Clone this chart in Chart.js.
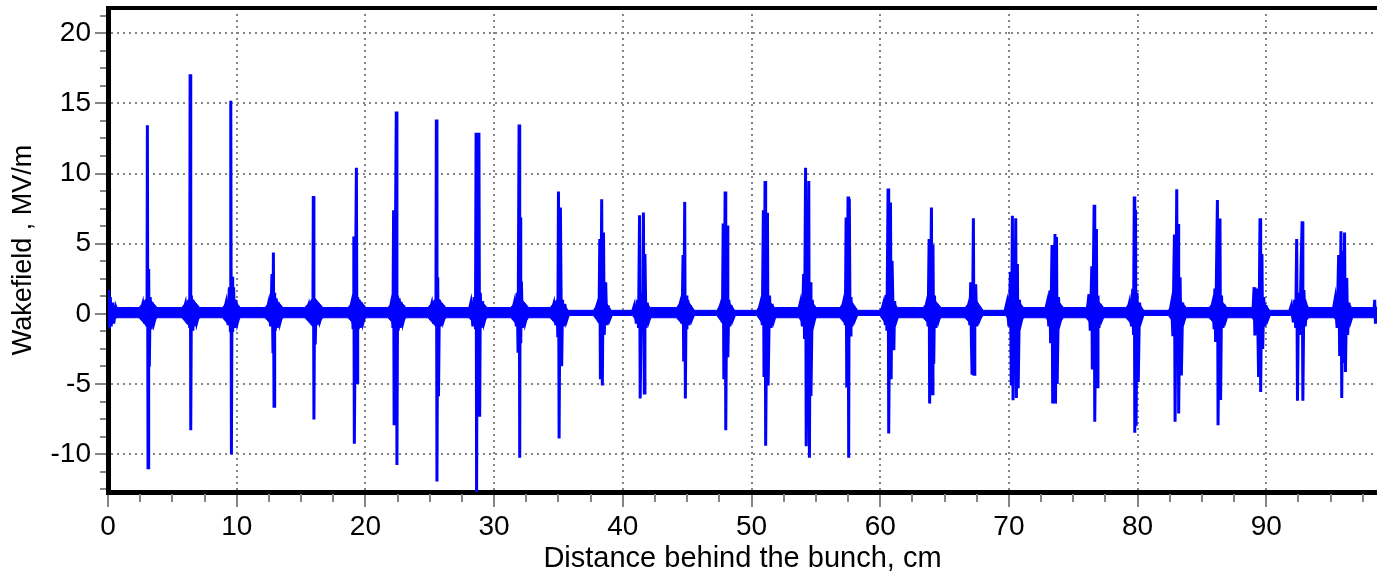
<!DOCTYPE html>
<html><head><meta charset="utf-8">
<script src="https://cdn.jsdelivr.net/npm/chart.js@4.4.0/dist/chart.umd.min.js"></script>
<style>html,body{margin:0;padding:0;background:#fff;}#wrap{width:1377px;height:576px;position:relative;}</style>
</head><body><div id="wrap"><canvas id="c"></canvas></div>
<script>
// ---- tick labels ----
const xMajorTicks = [0,10,20,30,40,50,60,70,80,90];
const xMinorTicks = [2.5,5,7.5,12.5,15,17.5,22.5,25,27.5,32.5,35,37.5,42.5,45,47.5,52.5,55,57.5,62.5,65,67.5,72.5,75,77.5,82.5,85,87.5,92.5,95,97.5];
const yMajorTicks = [-10,-5,0,5,10,15,20];
const yMinorTicks = [-12.5,-11.25,-8.75,-7.5,-6.25,-3.75,-2.5,-1.25,1.25,2.5,3.75,6.25,7.5,8.75,11.25,12.5,13.75,16.25,17.5,18.75,21.25];

// ---- wakefield trace (distance in cm, field in MV/m) ----
const distanceCm = [
 0.00,0.05,0.10,0.18,0.25,0.35,0.45,0.60,0.80,
 2.50,2.70,2.85,2.95,3.03,3.06,3.11,3.16,3.21,3.28,3.36,3.46,3.58,3.75,
 5.82,6.02,6.17,6.27,6.35,6.38,6.43,6.48,6.53,6.60,6.68,6.78,6.90,7.07,
 8.98,9.18,9.33,9.43,9.51,9.54,9.59,9.64,9.69,9.76,9.84,9.94,10.06,10.23,
 12.29,12.49,12.64,12.74,12.82,12.85,12.90,12.95,13.00,13.07,13.15,13.25,13.37,13.54,
 15.39,15.59,15.74,15.84,15.92,15.95,16.00,16.05,16.10,16.17,16.25,16.35,16.47,16.64,
 18.74,18.94,19.04,19.10,19.14,19.30,19.35,19.40,19.45,19.52,19.60,19.70,19.82,19.99,
 21.84,22.04,22.14,22.19,22.23,22.40,22.45,22.50,22.55,22.62,22.70,22.80,22.92,23.09,
 24.95,25.15,25.30,25.40,25.48,25.51,25.56,25.62,25.68,25.75,25.83,25.93,26.05,26.22,
 28.00,28.20,28.35,28.45,28.55,28.60,28.64,28.70,28.76,28.82,28.88,28.93,29.00,29.10,29.22,29.40,
 31.38,31.58,31.73,31.80,31.86,31.94,31.99,32.03,32.07,32.12,32.20,32.30,32.42,32.59,
 34.44,34.64,34.79,34.89,34.95,35.00,35.05,35.15,35.25,35.32,35.40,35.50,35.62,35.79,
 37.80,38.00,38.15,38.21,38.26,38.36,38.41,38.50,38.56,38.67,38.75,38.85,38.97,39.14,
 40.70,40.90,41.05,41.15,41.22,41.30,41.35,41.45,41.55,41.60,41.67,41.72,41.80,41.90,42.02,42.20,
 44.25,44.45,44.60,44.68,44.73,44.81,44.86,44.92,44.98,45.05,45.13,45.23,45.35,45.52,
 47.39,47.59,47.74,47.80,47.85,47.95,48.00,48.10,48.16,48.24,48.32,48.42,48.54,48.71,
 50.49,50.69,50.84,50.92,50.97,51.05,51.10,51.24,51.29,51.40,51.50,51.60,51.72,51.89,
 53.60,53.80,53.95,54.05,54.12,54.20,54.25,54.32,54.38,54.45,54.50,54.56,54.62,54.72,54.84,55.00,
 56.94,57.14,57.29,57.35,57.40,57.50,57.55,57.60,57.66,57.73,57.81,57.91,58.03,58.20,
 60.05,60.25,60.40,60.46,60.52,60.61,60.66,60.80,60.85,60.92,61.06,61.12,61.24,61.41,
 63.42,63.62,63.72,63.80,63.84,63.98,64.03,64.10,64.16,64.22,64.30,64.40,64.52,64.69,
 66.68,66.88,66.96,67.03,67.09,67.14,67.24,67.29,67.35,67.42,67.50,67.60,67.72,67.89,
 69.65,69.85,70.00,70.12,70.18,70.27,70.32,70.40,70.46,70.53,70.58,70.66,70.72,70.82,70.94,71.10,
 72.78,72.98,73.10,73.18,73.24,73.35,73.40,73.47,73.52,73.58,73.62,73.70,73.75,73.85,73.97,74.15,
 76.06,76.22,76.32,76.44,76.48,76.62,76.67,76.80,76.85,76.92,77.00,77.10,77.22,77.39,
 79.17,79.37,79.52,79.62,79.68,79.74,79.78,79.84,79.88,79.96,80.05,80.15,80.27,80.44,
 82.48,82.64,82.74,82.86,82.91,83.04,83.09,83.14,83.19,83.30,83.40,83.50,83.60,83.76,
 85.64,85.84,85.94,86.00,86.06,86.20,86.25,86.40,86.45,86.52,86.60,86.70,86.82,86.99,
 88.95,89.05,89.11,89.30,89.40,89.51,89.56,89.66,89.72,89.80,89.88,89.98,90.10,90.27,
 91.75,91.95,92.10,92.20,92.28,92.36,92.42,92.50,92.60,92.70,92.78,92.84,92.92,93.02,93.14,93.30,
 95.15,95.35,95.50,95.62,95.70,95.80,95.86,95.94,96.00,96.08,96.15,96.25,96.32,96.42,96.55,96.72,
 98.35,98.42,98.48,98.54,98.60
];
const wakefieldMVm = [
 0.3,1.7,-1.05,1.2,-0.9,0.8,-0.7,0.5,0,
 0,0.7,-0.7,1.0,-0.9,13.45,-10.97,3.2,-3.75,1.2,-1.1,0.8,-0.6,0,
 0,0.7,-0.7,1.0,-1.0,17.08,-8.29,1.3,-1.1,1.0,-0.9,0.7,-0.6,0,
 0,0.8,-0.8,1.9,-1.2,15.19,-10.02,2.65,-1.3,1.9,-1.0,1.0,-0.6,0,
 0,0.8,-0.9,2.84,-2.8,4.38,-6.59,1.5,-1.2,1.1,-1.0,0.8,-0.6,0,
 0,0.6,-0.6,0.9,-0.8,8.39,-7.53,1.0,-2.18,0.8,-0.8,0.6,-0.5,0,
 0,0.8,-1.0,5.52,-9.26,10.42,-4.9,1.2,-1.1,1.0,-1.0,0.8,-0.6,0,
 0,0.9,-1.0,7.39,-7.94,14.43,-10.78,1.3,-1.2,1.1,-1.0,0.8,-0.6,0,
 0,0.7,-0.7,0.9,-0.8,13.86,-11.96,2.6,-5.88,1.0,-0.9,0.7,-0.5,0,
 0,0.8,-0.9,1.2,-1.1,12.91,-12.9,12.0,-1.5,12.91,-7.34,1.5,-1.0,0.9,-0.6,0,
 0,0.8,-0.9,1.5,-2.77,13.5,-10.26,6.87,-2.1,2.3,-1.0,0.8,-0.6,0,
 0,0.7,-0.8,0.9,-1.66,8.72,-8.88,7.58,-3.74,1.0,-0.9,0.7,-0.5,0,
 0,0.6,-0.6,5.33,-4.67,8.17,-5.1,5.8,-1.5,2.25,-0.8,0.6,-0.4,0,
 0,0.6,-0.7,1.0,-1.0,7.03,-6.04,1.5,-1.3,7.23,-5.64,4.26,-1.0,0.8,-0.5,0,
 0,0.7,-0.7,4.19,-3.39,7.98,-6.04,1.3,-1.1,1.0,-0.8,0.6,-0.4,0,
 0,0.6,-0.6,6.44,-4.67,8.72,-8.29,6.3,-3.1,1.0,-0.9,0.6,-0.4,0,
 0,0.7,-0.8,7.39,-4.5,9.47,-9.4,7.2,-5.1,1.3,-1.0,0.7,-0.5,0,
 0,0.8,-0.9,2.84,-1.8,10.42,-9.43,2.0,-2.5,9.47,-10.26,2.25,-5.85,1.0,-0.6,0,
 0,0.8,-0.8,6.87,-5.26,8.36,-10.26,8.2,-1.5,1.2,-0.9,0.6,-0.4,0,
 0,0.7,-0.8,1.35,-1.2,8.93,-8.53,7.94,-4.67,3.79,-2.6,0.9,-0.5,0,
 0,0.8,-0.9,5.33,-6.4,7.58,-5.7,4.9,-3.55,1.3,-1.0,0.7,-0.5,0,
 0,0.7,-0.8,2.25,-2.2,-4.34,6.82,-4.3,1.5,2.1,-0.9,0.6,-0.4,0,
 0,0.8,-0.9,2.99,-5.1,6.99,-6.16,2.0,-2.5,6.82,-6.0,3.55,-5.3,1.0,-0.6,0,
 0,0.8,-0.9,1.66,-2.1,4.9,-6.4,2.0,-3.0,5.69,-6.4,5.47,-5.0,1.2,-0.6,0,
 0,1.4,-1.2,3.39,-3.96,7.77,-7.7,6.04,-5.2,1.3,-1.0,0.7,-0.4,0,
 0,0.8,-0.9,1.78,-1.5,8.36,-8.48,7.41,-8.0,1.5,-4.86,0.8,-0.5,0,
 0,0.8,-1.6,5.65,-7.7,8.88,-1.5,6.4,-7.1,2.6,-4.4,0.8,-0.5,0,
 0,0.8,-1.0,1.8,-2.0,8.12,-7.94,6.8,-6.15,1.3,-1.0,0.7,-0.5,0,
 0,1.9,-1.54,1.8,-4.5,6.82,-5.57,4.26,-2.5,1.2,-0.9,0.6,-0.4,0,
 0,0.6,-0.6,1.0,-1.0,5.33,-6.2,1.5,-1.5,3.27,6.59,-6.2,1.7,-0.9,0.5,0,
 0,1.07,-1.0,4.2,-3.0,5.88,-6.0,4.5,-3.5,5.8,-4.14,2.55,-1.5,0.8,-0.5,0,
 0,1.0,-0.7,0.5,0
];

// ---- envelope of the dense background ripple (upper / lower bound) ----
const envelopeCm = [0,0.7, 2.41,3.11,3.81, 5.73,6.43,7.13, 8.89,9.59,10.29, 12.2,12.9,13.6, 15.3,16.0,16.7, 18.65,19.35,20.05, 21.75,22.45,23.15, 24.86,25.56,26.26, 28.05,28.75,29.45, 31.29,31.99,32.69, 34.35,35.05,35.75, 37.71,38.41,39.11, 40.75,41.45,42.15, 44.16,44.86,45.56, 47.3,48.0,48.7, 50.4,51.1,51.8, 53.65,54.35,55.05, 56.85,57.55,58.25, 59.96,60.66,61.36, 63.33,64.03,64.73, 66.59,67.29,67.99, 69.75,70.45,71.15, 72.85,73.55,74.25, 75.97,76.67,77.37, 79.08,79.78,80.48, 82.39,83.09,83.79, 85.55,86.25,86.95, 88.86,89.56,90.26, 91.9,92.6,93.3, 95.25,95.95,96.65, 98.6];
const envelopeHigh = [0.8,0.45, 0.45,1.2,0.45, 0.45,1.2,0.45, 0.45,1.2,0.45, 0.45,1.2,0.45, 0.45,1.2,0.45, 0.45,1.2,0.45, 0.45,1.2,0.45, 0.45,1.2,0.45, 0.45,1.2,0.45, 0.45,1.2,0.45, 0.45,1.2,0.25, 0.25,1.2,0.25, 0.25,1.2,0.45, 0.45,1.2,0.25, 0.25,1.2,0.25, 0.25,1.2,0.45, 0.45,1.2,0.45, 0.45,1.2,0.25, 0.25,1.2,0.45, 0.45,1.2,0.45, 0.45,1.2,0.25, 0.25,1.2,0.45, 0.45,1.2,0.45, 0.45,1.2,0.45, 0.45,1.2,0.25, 0.25,1.2,0.45, 0.45,1.2,0.45, 0.45,1.2,0.25, 0.25,1.2,0.45, 0.45,1.2,0.45, 0.45];
const envelopeLow = [-0.6,-0.28, -0.28,-1.0,-0.28, -0.28,-1.0,-0.28, -0.28,-1.0,-0.28, -0.28,-1.0,-0.28, -0.28,-1.0,-0.28, -0.28,-1.0,-0.28, -0.28,-1.0,-0.28, -0.28,-1.0,-0.28, -0.28,-1.0,-0.28, -0.28,-1.0,-0.28, -0.28,-1.0,-0.12, -0.12,-1.0,-0.12, -0.12,-1.0,-0.28, -0.28,-1.0,-0.12, -0.12,-1.0,-0.12, -0.12,-1.0,-0.28, -0.28,-1.0,-0.28, -0.28,-1.0,-0.12, -0.12,-1.0,-0.28, -0.28,-1.0,-0.28, -0.28,-1.0,-0.12, -0.12,-1.0,-0.28, -0.28,-1.0,-0.28, -0.28,-1.0,-0.28, -0.28,-1.0,-0.12, -0.12,-1.0,-0.28, -0.28,-1.0,-0.28, -0.28,-1.0,-0.12, -0.12,-1.0,-0.28, -0.28,-1.0,-0.28, -0.28];

const X_MIN = 0, X_MAX = 98.6, Y_MIN = -12.7, Y_MAX = 21.8;
const FONT = "'Liberation Sans', Arial, Helvetica, sans-serif";
const BLUE = '#0000ff';
const GRID = '#858585';

const trace = distanceCm.map((x, i) => ({x, y: wakefieldMVm[i]}));
const envHi = envelopeCm.map((x, i) => ({x, y: envelopeHigh[i]}));
const envLo = envelopeCm.map((x, i) => ({x, y: envelopeLow[i]}));

const extras = {
  id: 'extras',
  afterDraw(chart) {
    const {ctx, chartArea: a, scales: {x, y}} = chart;
    ctx.save();
    ctx.strokeStyle = GRID; ctx.lineWidth = 2;
    ctx.beginPath();
    xMinorTicks.forEach(v => { const p = Math.round(x.getPixelForValue(v)); ctx.moveTo(p, a.bottom + 2); ctx.lineTo(p, a.bottom + 10); });
    yMinorTicks.forEach(v => { const p = Math.round(y.getPixelForValue(v)); ctx.moveTo(a.left - 8, p); ctx.lineTo(a.left - 2, p); });
    ctx.stroke();
    ctx.strokeStyle = '#000'; ctx.lineWidth = 4;
    ctx.beginPath(); ctx.moveTo(a.left - 2, a.top); ctx.lineTo(a.right, a.top); ctx.stroke();
    ctx.restore();
  }
};

new Chart(document.getElementById('c'), {
  type: 'line',
  data: {
    datasets: [
      {data: trace, borderColor: BLUE, borderWidth: 3, pointRadius: 0, fill: false, tension: 0},
      {data: envHi, borderColor: BLUE, borderWidth: 1, pointRadius: 0, fill: '+1', backgroundColor: BLUE, tension: 0},
      {data: envLo, borderColor: BLUE, borderWidth: 1, pointRadius: 0, fill: false, tension: 0}
    ]
  },
  options: {
    responsive: true, maintainAspectRatio: false, animation: false, events: [],
    layout: {padding: {top: 8, left: 0, right: 0, bottom: 0}},
    plugins: {legend: {display: false}, tooltip: {enabled: false}},
    scales: {
      x: {
        type: 'linear', min: X_MIN, max: X_MAX,
        afterBuildTicks: s => { s.ticks = xMajorTicks.map(v => ({value: v})); },
        afterFit: s => { s.height = 84; s.paddingRight = 0; },
        ticks: {font: {family: FONT, size: 28}, color: '#000', padding: 3, maxRotation: 0, includeBounds: false},
        grid: {color: GRID, lineWidth: 2, tickColor: GRID, tickWidth: 2, tickLength: 15, tickBorderDash: []},
        border: {display: true, color: '#000', width: 5, dash: [2, 4]},
        title: {display: true, text: 'Distance behind the bunch, cm', font: {family: FONT, size: 29}, color: '#000', padding: {top: 0, bottom: 0}}
      },
      y: {
        type: 'linear', min: Y_MIN, max: Y_MAX,
        afterBuildTicks: s => { s.ticks = yMajorTicks.map(v => ({value: v})); },
        afterFit: s => { s.width = 108; s.paddingTop = 0; s.paddingBottom = 0; },
        ticks: {font: {family: FONT, size: 28}, color: '#000', padding: 4, includeBounds: false},
        grid: {color: GRID, lineWidth: 2, tickColor: GRID, tickWidth: 2, tickLength: 13, tickBorderDash: []},
        border: {display: true, color: '#000', width: 5, dash: [2, 4]},
        title: {display: true, text: 'Wakefield , MV/m', font: {family: FONT, size: 27}, color: '#000', padding: {top: 7, bottom: 0}}
      }
    }
  },
  plugins: [extras]
});
</script></body></html>
